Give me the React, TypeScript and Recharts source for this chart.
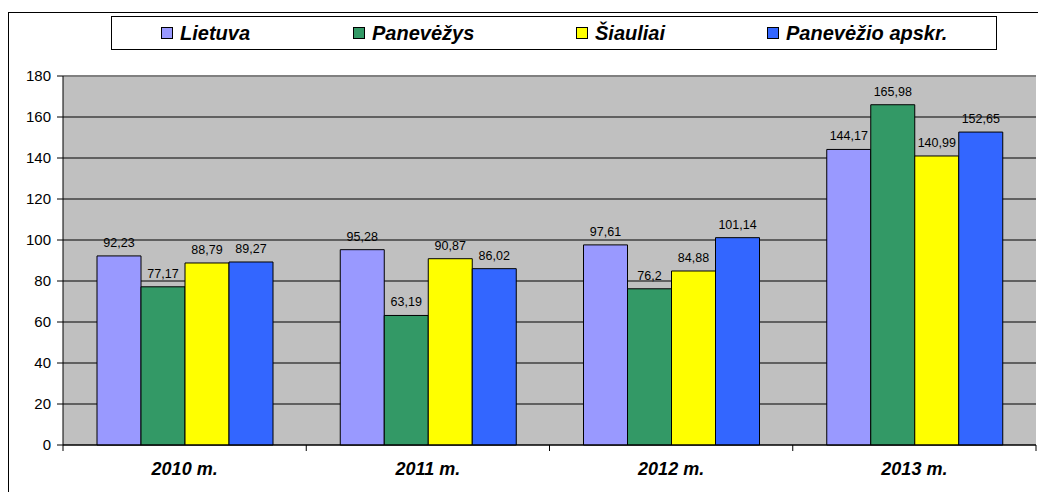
import { Bar, BarChart, CartesianGrid, LabelList, Legend, ReferenceLine, XAxis, YAxis } from "recharts";

const years = ["2010 m.", "2011 m.", "2012 m.", "2013 m."];
const lietuva = [92.23, 95.28, 97.61, 144.17];
const panevezys = [77.17, 63.19, 76.2, 165.98];
const siauliai = [88.79, 90.87, 84.88, 140.99];
const apskr = [89.27, 86.02, 101.14, 152.65];
const yTicks = [0, 20, 40, 60, 80, 100, 120, 140, 160, 180];

const series = [
  { key: "lietuva", name: "Lietuva", color: "#9999FF" },
  { key: "panevezys", name: "Panevėžys", color: "#339966" },
  { key: "siauliai", name: "Šiauliai", color: "#FFFF00" },
  { key: "apskr", name: "Panevėžio apskr.", color: "#3366FF" }
];

const data = years.map((year, i) => ({
  year,
  lietuva: lietuva[i],
  panevezys: panevezys[i],
  siauliai: siauliai[i],
  apskr: apskr[i]
}));

const FONT = "'Liberation Sans', Arial, sans-serif";
const legendLeft = [49, 241, 464, 655];

const fmt = (v: any) => String(v).replace(".", ",");

function YearTick(props: any) {
  const { x, y, payload, index, visibleTicksCount } = props;
  const half = payload?.offset ?? 0;
  const last = index === visibleTicksCount - 1;
  return (
    <g>
      <line x1={x - half} x2={x - half} y1={y} y2={y + 6} stroke="#000" />
      {last && <line x1={x + half} x2={x + half} y1={y} y2={y + 6} stroke="#000" />}
      <text
        x={x}
        y={y + 30}
        textAnchor="middle"
        fontFamily={FONT}
        fontSize={18}
        fontWeight="bold"
        fontStyle="italic"
        fill="#000"
      >
        {payload.value}
      </text>
    </g>
  );
}

function LegendBox() {
  return (
    <div
      style={{
        position: "relative",
        width: 884,
        height: 32,
        border: "1px solid #000",
        background: "#fff",
        fontFamily: FONT,
        fontSize: 20,
        fontWeight: "bold",
        fontStyle: "italic",
        lineHeight: "22px"
      }}
    >
      {series.map((s, i) => (
        <div
          key={s.key}
          style={{ position: "absolute", left: legendLeft[i], top: 5, display: "flex", alignItems: "center" }}
        >
          <span
            style={{
              display: "inline-block",
              width: 10,
              height: 10,
              background: s.color,
              border: "1px solid #000",
              marginRight: 7
            }}
          />
          <span>{s.name}</span>
        </div>
      ))}
    </div>
  );
}

export default function App() {
  return (
    <div style={{ position: "absolute", left: 0, top: 0, width: 1038, height: 492, background: "#fff" }}>
      <div
        style={{
          position: "absolute",
          left: 8,
          top: 12,
          width: 1030,
          height: 480,
          borderLeft: "1px solid #000",
          borderTop: "1px solid #000"
        }}
      />
      <div style={{ position: "absolute", left: 0, top: 0 }}>
        <BarChart
          width={1038}
          height={492}
          data={data}
          margin={{ top: 42, right: 2, left: 0, bottom: 7 }}
          barCategoryGap={34}
          barGap={0}
        >
          <CartesianGrid vertical={false} stroke="#000" fill="#C0C0C0" fillOpacity={1} />
          <ReferenceLine y={180} stroke="#808080" strokeWidth={2} />
          <XAxis
            dataKey="year"
            height={40}
            tickLine={false}
            tickSize={0}
            tickMargin={0}
            axisLine={{ stroke: "#000" }}
            tick={<YearTick />}
            interval={0}
          />
          <YAxis
            width={63}
            domain={[0, 180]}
            ticks={yTicks}
            interval={0}
            tickSize={6}
            tickMargin={6}
            axisLine={{ stroke: "#000" }}
            tickLine={{ stroke: "#000" }}
            tick={{ fill: "#000", fontSize: 15, fontFamily: FONT }}
          />
          <Legend
            verticalAlign="top"
            content={() => <LegendBox />}
            wrapperStyle={{ position: "absolute", top: 16, left: 111, width: 886 }}
          />
          {series.map((s) => (
            <Bar
              key={s.key}
              dataKey={s.key}
              name={s.name}
              fill={s.color}
              stroke="#000"
              strokeWidth={1}
              isAnimationActive={false}
            >
              <LabelList
                dataKey={s.key}
                position="top"
                offset={9}
                formatter={fmt}
                fill="#000"
                fontSize={12.5}
                fontFamily={FONT}
              />
            </Bar>
          ))}
        </BarChart>
      </div>
    </div>
  );
}
